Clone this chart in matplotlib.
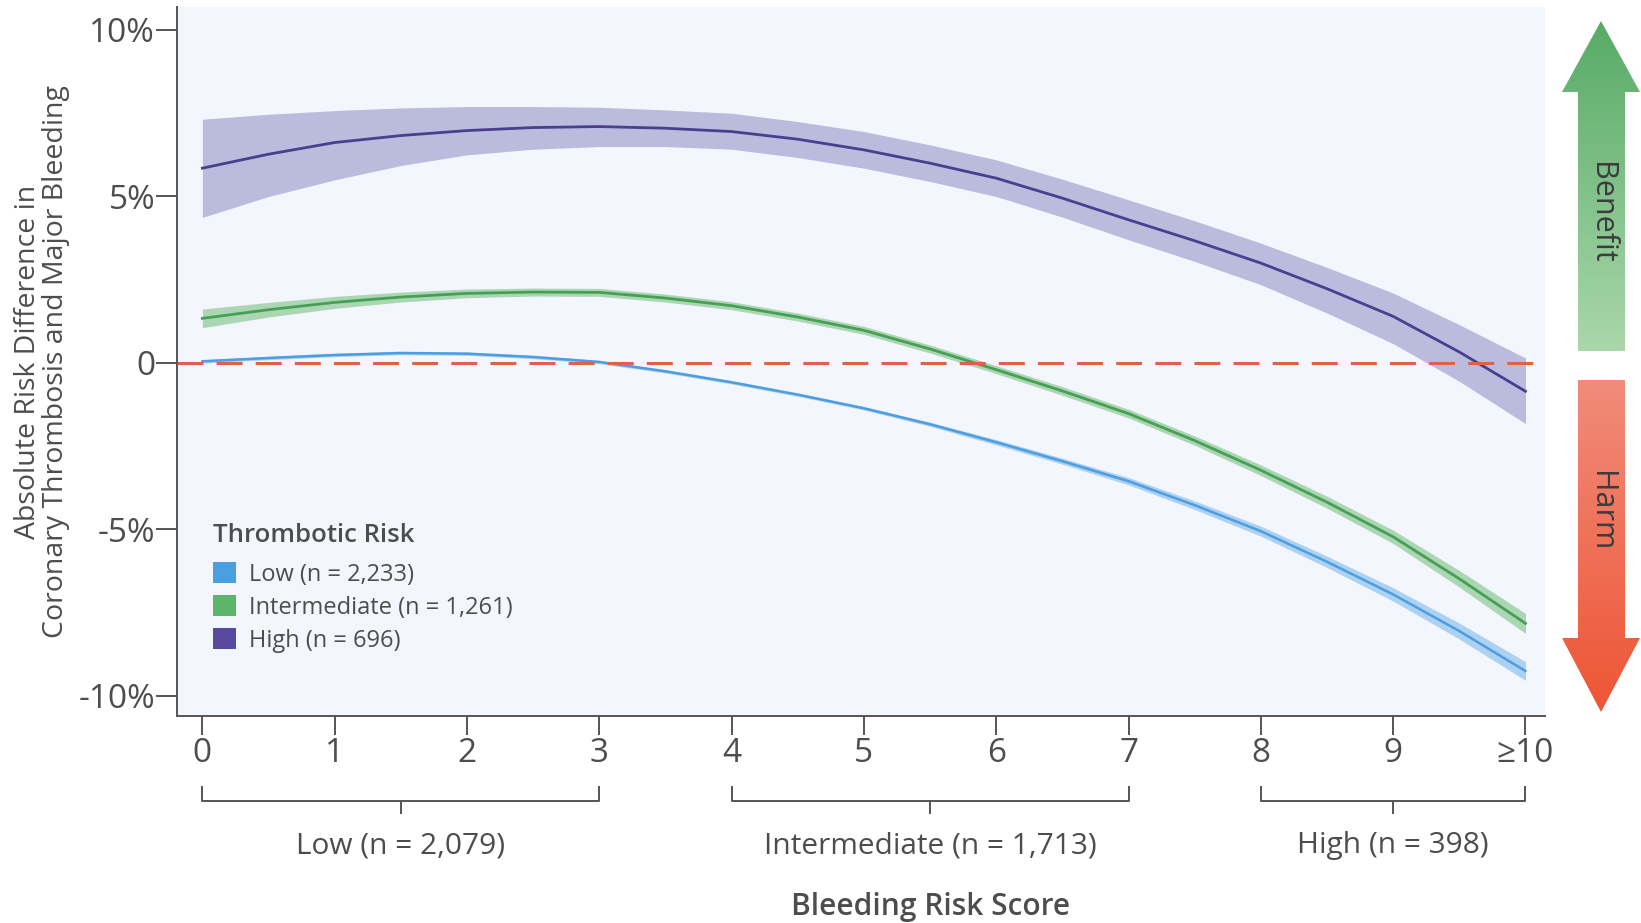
import matplotlib
matplotlib.use("Agg")
import matplotlib.pyplot as plt
import numpy as np
from matplotlib.patches import Patch, Polygon

plt.rcParams['font.family'] = ['Open Sans', 'DejaVu Sans']

# bleeding risk score (read at half steps)
score = [0, 0.5, 1, 1.5, 2, 2.5, 3, 3.5, 4, 4.5, 5, 5.5, 6, 6.5, 7, 7.5, 8, 8.5, 9, 9.5, 10]
tick_pos = [0, 1, 2, 3, 4, 5, 6, 7, 8, 9, 10]
tick_labels = ['0', '1', '2', '3', '4', '5', '6', '7', '8', '9', '≥10']

# absolute risk difference (%) by thrombotic risk group
high_mid = [5.85, 6.27, 6.62, 6.83, 6.98, 7.07, 7.10, 7.05, 6.95, 6.72, 6.40,
            6.00, 5.55, 4.95, 4.30, 3.67, 3.00, 2.23, 1.40, 0.33, -0.85]
high_lo = [4.37, 5.00, 5.50, 5.93, 6.25, 6.42, 6.50, 6.50, 6.42, 6.17, 5.85,
           5.45, 5.00, 4.38, 3.70, 3.05, 2.35, 1.50, 0.58, -0.55, -1.82]
high_hi = [7.32, 7.47, 7.58, 7.66, 7.70, 7.70, 7.68, 7.60, 7.50, 7.25, 6.95,
           6.55, 6.10, 5.52, 4.90, 4.27, 3.60, 2.87, 2.10, 1.15, 0.15]

int_mid = [1.34, 1.60, 1.82, 1.98, 2.09, 2.13, 2.12, 1.95, 1.72, 1.38, 0.98,
           0.42, -0.20, -0.84, -1.52, -2.33, -3.22, -4.18, -5.22, -6.48, -7.82]
int_hw = [0.28, 0.22, 0.18, 0.15, 0.13, 0.12, 0.12, 0.12, 0.12, 0.12, 0.12,
          0.12, 0.12, 0.13, 0.13, 0.14, 0.16, 0.18, 0.20, 0.25, 0.30]

low_mid = [0.05, 0.15, 0.24, 0.30, 0.28, 0.18, 0.03, -0.25, -0.58, -0.95, -1.36,
           -1.84, -2.38, -2.95, -3.55, -4.27, -5.05, -5.97, -6.95, -8.05, -9.25]
low_hw = [0.05, 0.05, 0.05, 0.05, 0.05, 0.05, 0.05, 0.05, 0.05, 0.05, 0.05,
          0.06, 0.08, 0.09, 0.11, 0.13, 0.15, 0.17, 0.20, 0.24, 0.28]

legend_labels = ['Low (n = 2,233)', 'Intermediate (n = 1,261)', 'High (n = 696)']
groups = [('Low (n = 2,079)', 0, 3), ('Intermediate (n = 1,713)', 4, 7), ('High (n = 398)', 8, 10)]

txt = '#4d4d4d'
fig = plt.figure(figsize=(16.41, 9.23), dpi=100)
ax = fig.add_axes([0.108, 0.2243, 0.8337, 0.7681])
ax.set_facecolor('#f3f6fc')

int_mid_a, int_hw_a = np.array(int_mid), np.array(int_hw)
low_mid_a, low_hw_a = np.array(low_mid), np.array(low_hw)

ax.fill_between(score, high_lo, high_hi, color='#a9a7d4', alpha=0.75, lw=0)
ax.plot(score, high_mid, color='#4a3e8e', lw=2.0)
ax.fill_between(score, int_mid_a - int_hw_a, int_mid_a + int_hw_a, color='#7dc283', alpha=0.6, lw=0)
ax.plot(score, int_mid, color='#45a055', lw=2.0)
ax.fill_between(score, low_mid_a - low_hw_a, low_mid_a + low_hw_a, color='#7eb9ea', alpha=0.6, lw=0)
ax.plot(score, low_mid, color='#4c9ee0', lw=1.8)
ax.axhline(0, color='#e0604a', lw=2.2, dashes=(8.5, 4.3))

ax.set_xlim(-0.19, 10.15)
ax.set_ylim(-10.6, 10.69)
ax.set_yticks([-10, -5, 0, 5, 10])
ax.set_yticklabels(['-10%', '-5%', '0', '5%', '10%'])
ax.set_xticks(tick_pos)
ax.set_xticklabels(tick_labels)
ax.tick_params(axis='both', colors='#555555', labelcolor=txt, labelsize=24, width=1.4)
ax.tick_params(axis='y', length=15, pad=1)
ax.tick_params(axis='x', length=14, pad=1)
for s in ['top', 'right']:
    ax.spines[s].set_visible(False)
for s in ['left', 'bottom']:
    ax.spines[s].set_color('#555555')
    ax.spines[s].set_linewidth(1.4)

ax.set_ylabel('Absolute Risk Difference in\nCoronary Thrombosis and Major Bleeding',
              fontsize=20.5, color=txt, labelpad=6, linespacing=1.0)

handles = [Patch(facecolor=c, edgecolor='none') for c in ['#4a9fe0', '#5bb56a', '#5a4a9e']]
leg = ax.legend(handles, legend_labels, title='Thrombotic Risk', loc='upper left',
                bbox_to_anchor=(0.026, 0.272), frameon=False, fontsize=17,
                title_fontproperties={'size': 18.5, 'weight': 'semibold'},
                alignment='left', handlelength=1.0, handleheight=1.0,
                handletextpad=0.55, labelspacing=0.36, borderpad=0, borderaxespad=0)
leg.get_title().set_color(txt)
leg._legend_box.sep = 10
for t in leg.get_texts():
    t.set_color(txt)

# bleeding risk brackets under the x axis
tr = ax.get_xaxis_transform()
for name, a, b in groups:
    c = (a + b) / 2
    ax.plot([a, a, b, b], [-0.100, -0.120, -0.120, -0.100], transform=tr,
            color='#555555', lw=1.4, clip_on=False)
    ax.plot([c, c], [-0.120, -0.137], transform=tr, color='#555555', lw=1.4, clip_on=False)
    ax.text(c, -0.183, name, transform=tr, ha='center', va='center', fontsize=21.5, color=txt)
ax.text(5.5, -0.269, 'Bleeding Risk Score', transform=tr, ha='center', va='center',
        fontsize=21.5, fontweight='semibold', color=txt)

# benefit / harm arrows on the right
ov = fig.add_axes([0, 0, 1, 1], zorder=-1)
ov.set_xlim(0, 1641)
ov.set_ylim(923, 0)
ov.axis('off')

def grad_arrow(pts, top, bot, y0, y1):
    poly = Polygon(pts, closed=True, facecolor='none', edgecolor='none')
    ov.add_patch(poly)
    c0 = np.array(matplotlib.colors.to_rgb(top))
    c1 = np.array(matplotlib.colors.to_rgb(bot))
    t = np.linspace(0, 1, 256)[:, None]
    img = (c0 * (1 - t) + c1 * t)[:, None, :]
    im = ov.imshow(img, extent=[1555, 1641, y1, y0], aspect='auto', interpolation='bilinear')
    im.set_clip_path(poly)

grad_arrow([(1601, 21), (1640, 92), (1625, 92), (1625, 351), (1578, 351), (1578, 92), (1562, 92)],
           '#57ab66', '#aad7ab', 21, 351)
grad_arrow([(1578, 380), (1625, 380), (1625, 638), (1640, 638), (1601, 712), (1562, 638), (1578, 638)],
           '#f18c7a', '#ee5535', 380, 712)
ov.text(1601, 213, 'Benefit', rotation=-90, ha='center', va='center', fontsize=22, color='#3c3c3c')
ov.text(1601, 511, 'Harm', rotation=-90, ha='center', va='center', fontsize=22, color='#3c3c3c')

fig.savefig('out.png', dpi=100, facecolor='white')
